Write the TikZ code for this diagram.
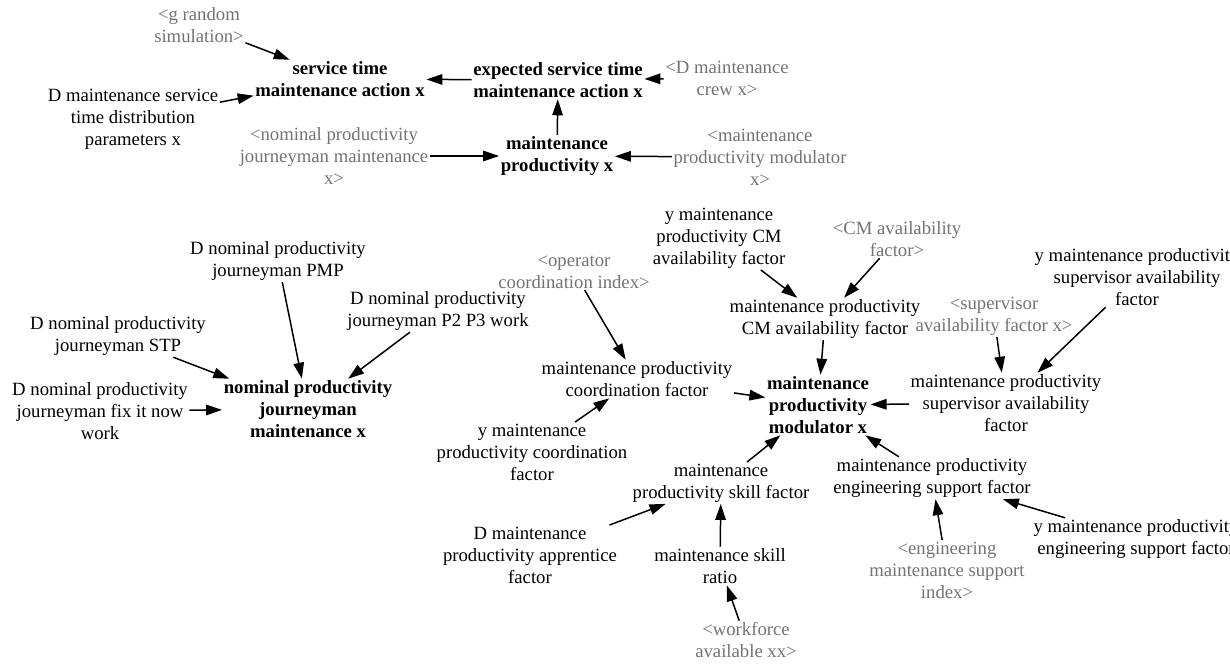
\documentclass[tikz,border=0pt]{standalone}
\usepackage{fontspec}
\setmainfont{Liberation Serif}
\usetikzlibrary{arrows.meta}
\begin{document}
\begin{tikzpicture}[x=1pt,y=-1pt,
  txt/.style={font=\fontsize{18.7pt}{22pt}\selectfont, align=center, inner sep=1.5pt},
  aux/.style={txt},
  lvl/.style={txt, font=\fontsize{18.7pt}{22pt}\selectfont\bfseries},
  shadow/.style={txt, text=black!55},
  arr/.style={-{Triangle[length=16pt,width=10.5pt]}, line width=1.5pt}]
\useasboundingbox (0,0) rectangle (1230,664);

% service time chain
\node[shadow] (grs)  at (199,25)  {<g random\\simulation>};
\node[lvl]    (st)   at (340,79)  {service time\\maintenance action x};
\node[lvl]    (est)  at (558,80)  {expected service time\\maintenance action x};
\node[shadow] (dmc)  at (727,78)  {<D maintenance\\crew x>};
\node[aux]    (dmst) at (133,119) {D maintenance service\\time distribution\\parameters x};
\node[shadow] (nps)  at (334,156) {<nominal productivity\\journeyman maintenance\\x>};
\node[lvl]    (mp)   at (557,156) {maintenance\\productivity x};
\node[shadow] (mods) at (760,157) {<maintenance\\productivity modulator\\x>};

% nominal productivity
\node[aux] (pmp)  at (278,261) {D nominal productivity\\journeyman PMP};
\node[aux] (p23)  at (438,311) {D nominal productivity\\journeyman P2 P3 work};
\node[aux] (stp)  at (118,336) {D nominal productivity\\journeyman STP};
\node[aux] (fix)  at (100,411) {D nominal productivity\\journeyman fix it now\\work};
\node[lvl] (npjm) at (308,409) {nominal productivity\\journeyman\\maintenance x};

% productivity modulator
\node[aux]    (ycm)   at (719,238)  {y maintenance\\productivity CM\\availability factor};
\node[shadow] (cmaf)  at (897,239)  {<CM availability\\factor>};
\node[shadow] (opci)  at (574,272)  {<operator\\coordination index>};
\node[aux]    (ysaf)  at (1137,277) {y maintenance productivity\\supervisor availability\\factor};
\node[aux]    (mpcm)  at (825,319)  {maintenance productivity\\CM availability factor};
\node[shadow] (saf)   at (994,316)  {<supervisor\\availability factor x>};
\node[aux]    (mpsaf) at (1006,403) {maintenance productivity\\supervisor availability\\factor};
\node[lvl]    (mpm)   at (818,405)  {maintenance\\productivity\\modulator x};
\node[aux]    (mpcf)  at (637,379)  {maintenance productivity\\coordination factor};
\node[aux]    (ycf)   at (532,452)  {y maintenance\\productivity coordination\\factor};
\node[aux]    (mpsf)  at (721,483)  {maintenance\\productivity skill factor};
\node[aux]    (dmpa)  at (530,555)  {D maintenance\\productivity apprentice\\factor};
\node[aux]    (msr)   at (720,566)  {maintenance skill\\ratio};
\node[shadow] (wfa)   at (746,640)  {<workforce\\available xx>};
\node[aux]    (mpes)  at (932,478)  {maintenance productivity\\engineering support factor};
\node[shadow] (emsi)  at (947,570)  {<engineering\\maintenance support\\index>};
\node[aux]    (yes)   at (1136,539) {y maintenance productivity\\engineering support factor};

% links
\draw[arr] (grs) -- (st);
\draw[arr] (dmst) -- (st);
\draw[arr] (est) -- (st);
\draw[arr] (dmc) -- (est);
\draw[arr] (mp) -- (est);
\draw[arr] (nps) -- (mp);
\draw[arr] (mods) -- (mp);

\draw[arr] (pmp) -- (npjm);
\draw[arr] (p23) -- (npjm);
\draw[arr] (stp) -- (npjm);
\draw[arr] (fix) -- (npjm);

\draw[arr] (opci) -- (mpcf);
\draw[arr] (ycf) -- (mpcf);
\draw[arr] (mpcf) -- (mpm);
\draw[arr] (ycm) -- (mpcm);
\draw[arr] (cmaf) -- (mpcm);
\draw[arr] (mpcm) -- (mpm);
\draw[arr] (saf) -- (mpsaf);
\draw[arr] (ysaf) -- (mpsaf);
\draw[arr] (mpsaf) -- (mpm);
\draw[arr] (mpes) -- (mpm);
\draw[arr] (mpsf) -- (mpm);
\draw[arr] (dmpa) -- (mpsf);
\draw[arr] (msr) -- (mpsf);
\draw[arr] (wfa) -- (msr);
\draw[arr] (emsi) -- (mpes);
\draw[arr] (yes) -- (mpes);
\end{tikzpicture}
\end{document}
